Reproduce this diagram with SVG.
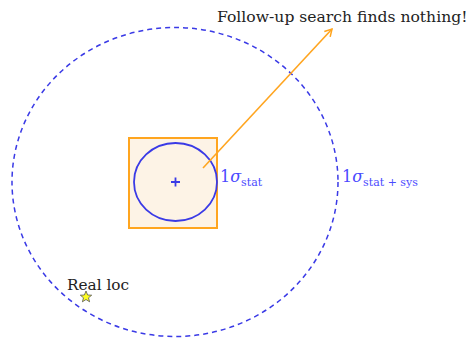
<svg xmlns="http://www.w3.org/2000/svg" width="468" height="338" viewBox="0 0 468 338">
<style>
.lbl{font-family:"DejaVu Serif",serif;fill:#222}
.math{font-family:"DejaVu Serif",serif;fill:#4a4aff}
.blue{stroke:#3a3ae6;fill:none}
</style>
<defs>
<marker id="ah" markerWidth="10" markerHeight="10" refX="8" refY="5" orient="auto" markerUnits="userSpaceOnUse">
<path d="M1,1 L8,5 L1,9" fill="none" stroke="#ffa51f" stroke-width="1.5"/>
</marker>
</defs>
<rect width="468" height="338" fill="#fff"/>
<g id="sys">
<ellipse cx="175" cy="182" rx="163" ry="154.5" class="blue" stroke-width="1.5" stroke-dasharray="5,4"/>
<text x="342" y="182" class="math" font-size="16">1<tspan font-style="italic">σ</tspan><tspan font-size="11" dy="4">stat + sys</tspan></text>
</g>
<g id="box">
<rect x="129" y="138" width="88" height="90" fill="#fdf3e6" stroke="#ffa51f" stroke-width="2"/>
</g>
<g id="stat">
<ellipse cx="175.5" cy="182" rx="41.5" ry="39" class="blue" stroke-width="1.8"/>
<path d="M171,182 H180 M175.5,177.5 V186.5" class="blue" stroke-width="1.8"/>
<text x="220" y="182" class="math" font-size="16">1<tspan font-style="italic">σ</tspan><tspan font-size="11" dy="4">stat</tspan></text>
</g>
<g id="connectors">
<line x1="203" y1="168" x2="332" y2="29" stroke="#ffa51f" stroke-width="1.6" marker-end="url(#ah)"/>
</g>
<g id="followup">
<text x="217" y="22" class="lbl" font-size="15.6">Follow-up search finds nothing!</text>
</g>
<g id="real">
<text x="67" y="290" class="lbl" font-size="15.3">Real loc</text>
<polygon points="86,291 87.6,295 91.7,295.2 88.5,297.8 89.6,301.8 86,299.5 82.4,301.8 83.5,297.8 80.3,295.2 84.4,295" fill="#ffff22" stroke="#555" stroke-width="0.8"/>
</g>
</svg>
